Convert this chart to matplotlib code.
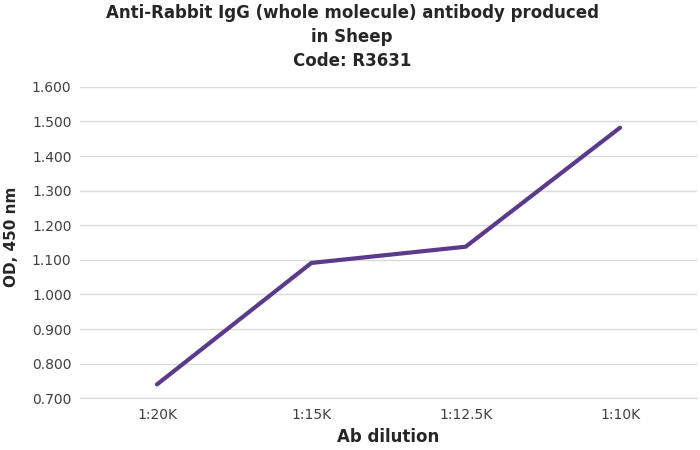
import matplotlib
matplotlib.use("Agg")
import matplotlib.pyplot as plt

dilutions = ["1:20K", "1:15K", "1:12.5K", "1:10K"]
od_450 = [0.740, 1.091, 1.138, 1.482]
y_ticks = [0.7, 0.8, 0.9, 1.0, 1.1, 1.2, 1.3, 1.4, 1.5, 1.6]

plt.rcParams["font.family"] = ["DejaVu Sans"]

fig = plt.figure(figsize=(7, 4.5), dpi=100)
ax = fig.add_axes([0.114, 0.115, 0.882, 0.692])

x = list(range(len(dilutions)))
ax.plot(x, od_450, color="#5b3a8c", linewidth=3, solid_capstyle="round", zorder=3)

ax.set_xlim(-0.5, len(dilutions) - 0.5)
ax.set_ylim(0.7, 1.6)
ax.set_xticks(x)
ax.set_xticklabels(dilutions)
ax.set_yticks(y_ticks)
ax.set_yticklabels([f"{v:.3f}" for v in y_ticks])

ax.grid(axis="y", color="#d9d9d9", linewidth=1)
ax.set_axisbelow(True)
for side in ["top", "right", "left"]:
    ax.spines[side].set_visible(False)
ax.spines["bottom"].set_color("#d9d9d9")
ax.tick_params(axis="x", length=0, labelsize=10, colors="#404040", pad=7)
ax.tick_params(axis="y", length=0, labelsize=10, colors="#404040", pad=6)

ax.set_xlabel("Ab dilution", fontsize=12, fontweight="bold", color="#262626", labelpad=4)
ax.set_ylabel("OD, 450 nm", fontsize=11, fontweight="bold", color="#262626", labelpad=5)
ax.yaxis.set_label_coords(-0.098, 0.52)

fig.text(0.503, 0.99,
         "Anti-Rabbit IgG (whole molecule) antibody produced\nin Sheep\nCode: R3631",
         ha="center", va="top", fontsize=12, fontweight="bold", color="#262626",
         linespacing=1.42)

fig.savefig("out.png", dpi=100, facecolor="white")
